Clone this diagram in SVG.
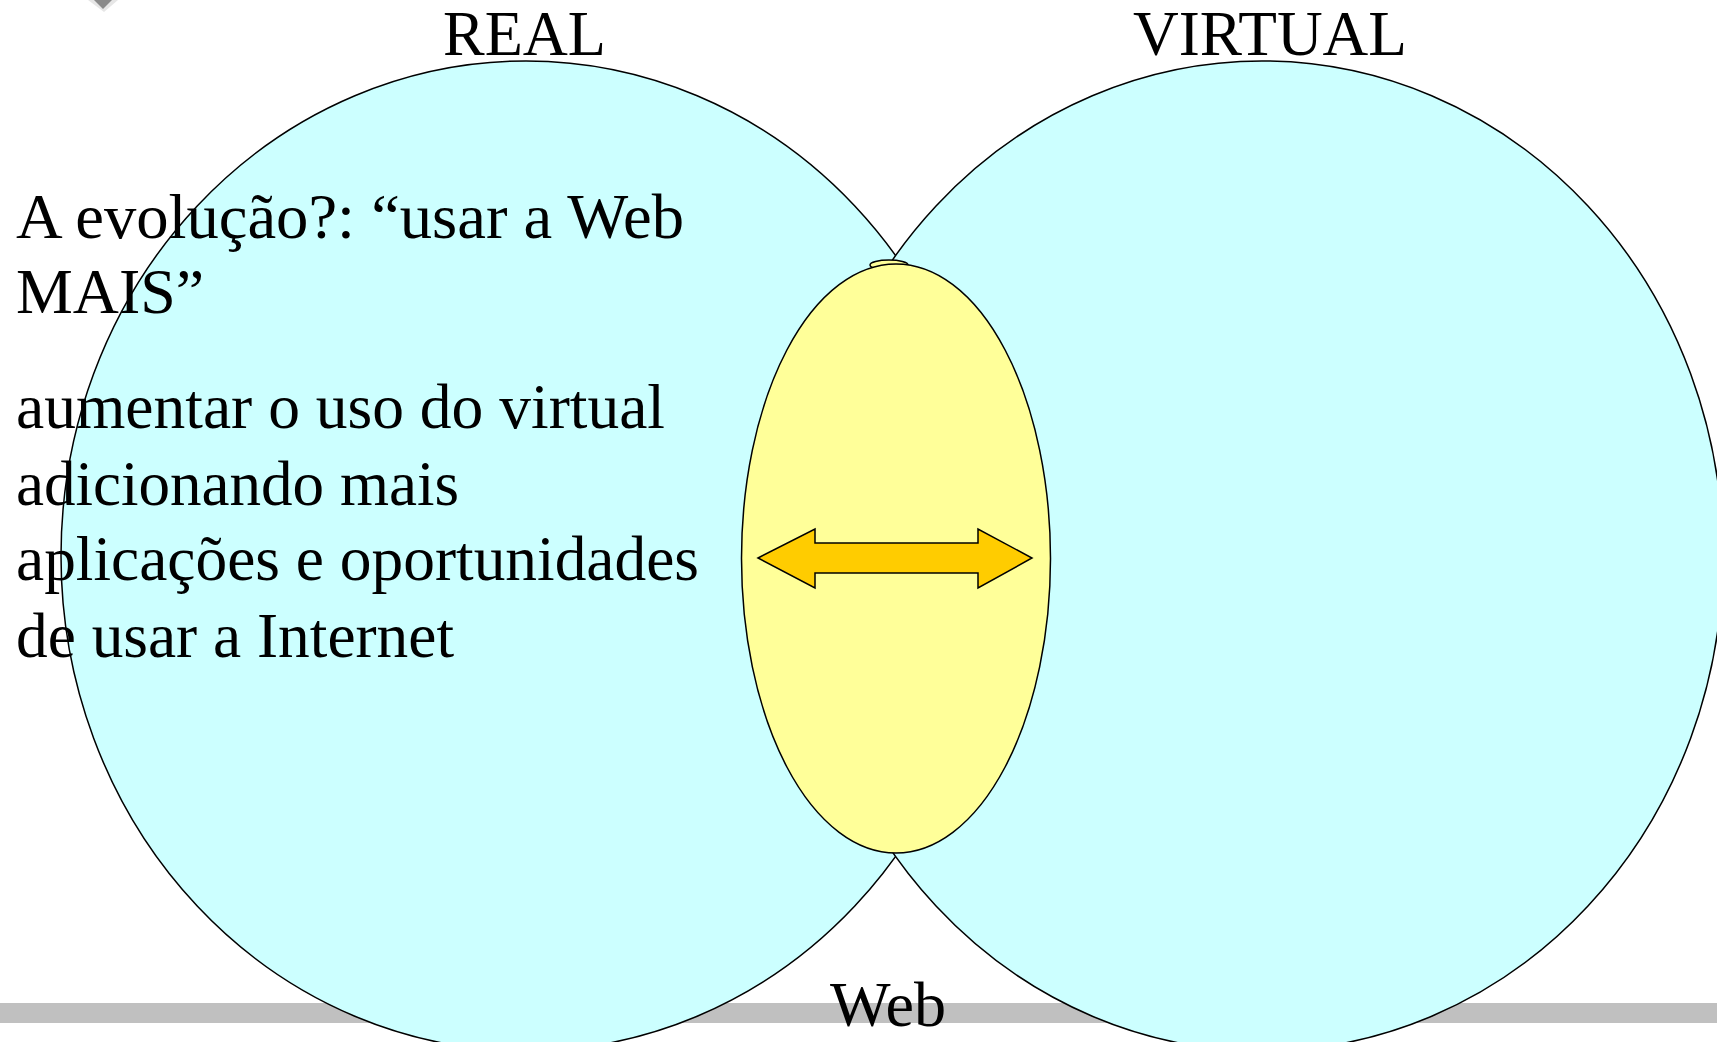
<svg xmlns="http://www.w3.org/2000/svg" width="1717" height="1042" viewBox="0 0 1717 1042">
  <style>
    .t { font-family: "Liberation Serif", "Times New Roman", serif; font-size: 64px; fill: #000; }
    .circ { fill: #CCFFFF; stroke: #000; stroke-width: 1.5; }
    .lens { fill: #FFFF99; stroke: #000; stroke-width: 1.5; }
    .arrow { fill: #FFCC00; stroke: #000; stroke-width: 1.5; stroke-linejoin: miter; }
  </style>
  <rect width="1717" height="1042" fill="#FFFFFF"/>
  <g id="corner-mark">
    <polygon points="88,0 118,0 104,12" fill="#E6E6E6"/>
    <polygon points="94,0 112,0 103,9" fill="#8A8A8A"/>
  </g>
  <g id="web-bar">
    <rect x="0" y="1003" width="1717" height="20" fill="#C0C0C0"/>
  </g>
  <g id="real">
    <ellipse class="circ" cx="526" cy="556" rx="465" ry="495"/>
    <text class="t" x="443" y="55" textLength="163" lengthAdjust="spacingAndGlyphs">REAL</text>
  </g>
  <g id="virtual">
    <ellipse class="circ" cx="1262" cy="556" rx="461" ry="495"/>
    <text class="t" x="1133" y="55" textLength="274" lengthAdjust="spacingAndGlyphs">VIRTUAL</text>
  </g>
  <g id="web">
    <ellipse class="lens" cx="889" cy="265" rx="19" ry="5"/>
    <ellipse class="lens" cx="896" cy="558.5" rx="154.5" ry="294.5"/>
    <text class="t" x="830" y="1026" textLength="116" lengthAdjust="spacingAndGlyphs">Web</text>
  </g>
  <g id="connectors">
    <polygon class="arrow" points="758,558 815,529 815,543 978,543 978,529 1032,558 978,588 978,573 815,573 815,588"/>
  </g>
  <g id="caption">
    <text class="t" x="16" y="238" textLength="668" lengthAdjust="spacingAndGlyphs">A evolução?: “usar a Web</text>
    <text class="t" x="16" y="313" textLength="188" lengthAdjust="spacingAndGlyphs">MAIS”</text>
    <text class="t" x="16" y="428" textLength="649" lengthAdjust="spacingAndGlyphs">aumentar o uso do virtual</text>
    <text class="t" x="16" y="505" textLength="443" lengthAdjust="spacingAndGlyphs">adicionando mais</text>
    <text class="t" x="16" y="580" textLength="683" lengthAdjust="spacingAndGlyphs">aplicações e oportunidades</text>
    <text class="t" x="16" y="657" textLength="438" lengthAdjust="spacingAndGlyphs">de usar a Internet</text>
  </g>
</svg>
